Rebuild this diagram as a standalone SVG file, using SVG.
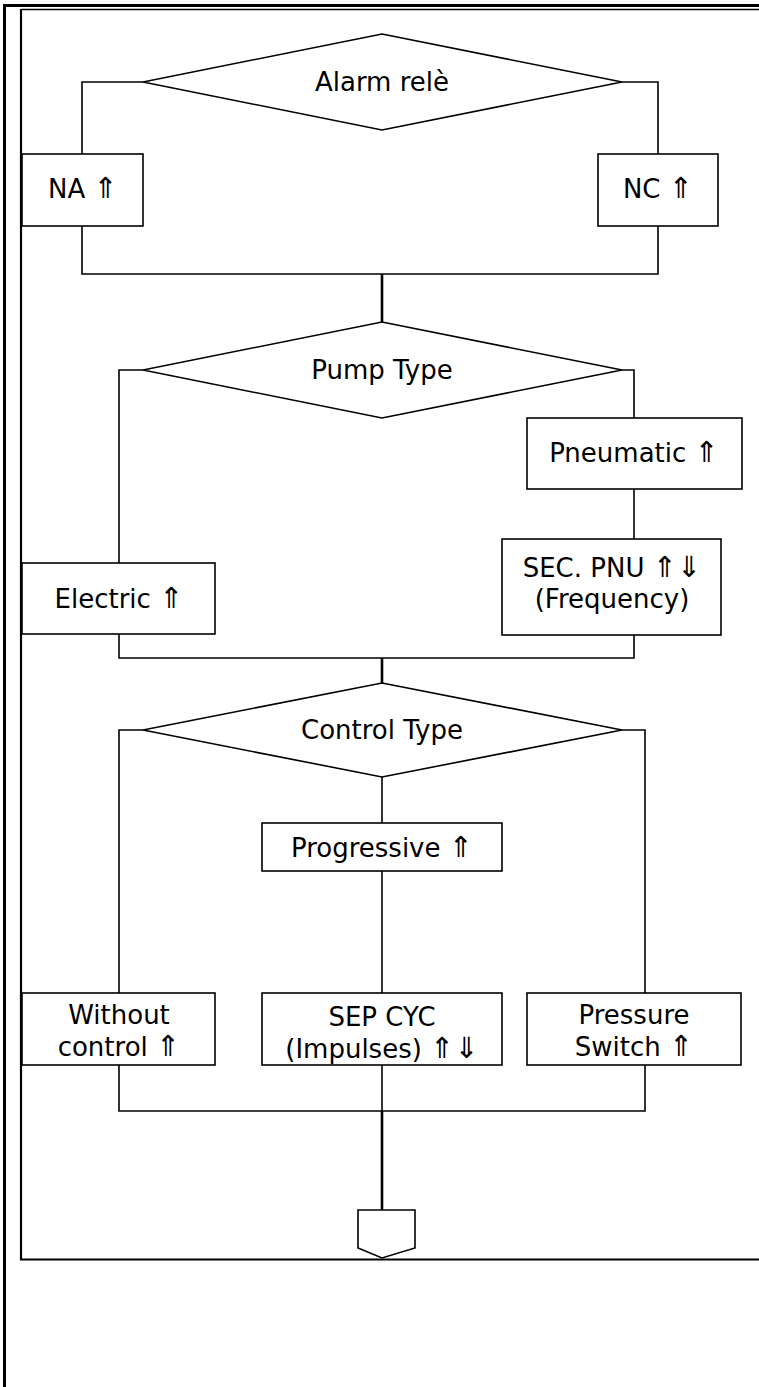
<svg xmlns="http://www.w3.org/2000/svg" width="759" height="1387" viewBox="0 0 759 1387">
<style>
.shape{fill:#fff;stroke:#000;stroke-width:1.6}
.ln{fill:none;stroke:#000;stroke-width:1.6}
.stem{fill:none;stroke:#000;stroke-width:2.6}
.frame{fill:none;stroke:#000}
text{font-family:"DejaVu Sans","Liberation Sans",sans-serif;font-size:26px;fill:#000;text-anchor:middle}
.ar{font-size:29px;font-family:"DejaVu Sans",sans-serif}
</style>
<rect width="759" height="1387" fill="#fff"/>
<g id="frame">
<line class="frame" x1="4.5" y1="4" x2="4.5" y2="1387" stroke-width="3"/>
<line class="frame" x1="3" y1="5.5" x2="759" y2="5.5" stroke-width="3"/>
<line class="frame" x1="21" y1="9.5" x2="759" y2="9.5" stroke-width="1.6" stroke="#333"/>
<line class="frame" x1="21" y1="9" x2="21" y2="1260" stroke-width="2.2"/>
<line class="frame" x1="20" y1="1259.5" x2="759" y2="1259.5" stroke-width="2.2" stroke="#222"/>
</g>
<g id="connectors">
<polyline class="ln" points="143,82 82,82 82,154"/>
<polyline class="ln" points="622,82 658,82 658,154"/>
<polyline class="ln" points="82,226 82,274 658,274 658,226"/>
<line class="stem" x1="382" y1="274" x2="382" y2="322"/>
<polyline class="ln" points="143,370 119,370 119,563"/>
<polyline class="ln" points="622,370 634,370 634,418"/>
<line class="ln" x1="634" y1="489" x2="634" y2="539"/>
<polyline class="ln" points="119,634 119,658 634,658 634,635"/>
<line class="stem" x1="382" y1="658" x2="382" y2="683"/>
<polyline class="ln" points="143,730 119,730 119,993"/>
<polyline class="ln" points="622,730 645,730 645,993"/>
<line class="ln" x1="382" y1="777" x2="382" y2="823"/>
<line class="ln" x1="382" y1="871" x2="382" y2="993"/>
<polyline class="ln" points="119,1065 119,1111 645,1111 645,1065"/>
<line class="ln" x1="382" y1="1065" x2="382" y2="1111"/>
<line class="stem" x1="382" y1="1111" x2="382" y2="1210"/>
</g>
<g id="alarm">
<polygon class="shape" points="382,34 622,82 382,130 143,82"/>
<text x="382" y="91">Alarm relè</text>
</g>
<g id="na">
<rect class="shape" x="22" y="154" width="121" height="72"/>
<text x="83" y="198">NA <tspan class="ar">⇑</tspan></text>
</g>
<g id="nc">
<rect class="shape" x="598" y="154" width="120" height="72"/>
<text x="658" y="198">NC <tspan class="ar">⇑</tspan></text>
</g>
<g id="pump">
<polygon class="shape" points="382,322 622,370 382,418 143,370"/>
<text x="382" y="379">Pump Type</text>
</g>
<g id="pneumatic">
<rect class="shape" x="527" y="418" width="215" height="71"/>
<text x="634" y="462">Pneumatic <tspan class="ar">⇑</tspan></text>
</g>
<g id="secpnu">
<rect class="shape" x="502" y="539" width="219" height="96"/>
<text x="612" y="577">SEC. PNU <tspan class="ar">⇑⇓</tspan></text>
<text x="612" y="608">(Frequency)</text>
</g>
<g id="electric">
<rect class="shape" x="22" y="563" width="193" height="71"/>
<text x="119" y="608">Electric <tspan class="ar">⇑</tspan></text>
</g>
<g id="control">
<polygon class="shape" points="382,683 622,730 382,777 143,730"/>
<text x="382" y="739">Control Type</text>
</g>
<g id="progressive">
<rect class="shape" x="262" y="823" width="240" height="48"/>
<text x="382" y="857">Progressive <tspan class="ar">⇑</tspan></text>
</g>
<g id="without">
<rect class="shape" x="22" y="993" width="193" height="72"/>
<text x="119" y="1024">Without</text>
<text x="119" y="1056">control <tspan class="ar">⇑</tspan></text>
</g>
<g id="sepcyc">
<rect class="shape" x="262" y="993" width="240" height="72"/>
<text x="382" y="1026">SEP CYC</text>
<text x="382" y="1058">(Impulses) <tspan class="ar">⇑⇓</tspan></text>
</g>
<g id="pressure">
<rect class="shape" x="527" y="993" width="214" height="72"/>
<text x="634" y="1024">Pressure</text>
<text x="634" y="1056">Switch <tspan class="ar">⇑</tspan></text>
</g>
<g id="offpage">
<polygon class="shape" points="358,1210 415,1210 415,1248 382,1258 358,1248"/>
</g>
</svg>
